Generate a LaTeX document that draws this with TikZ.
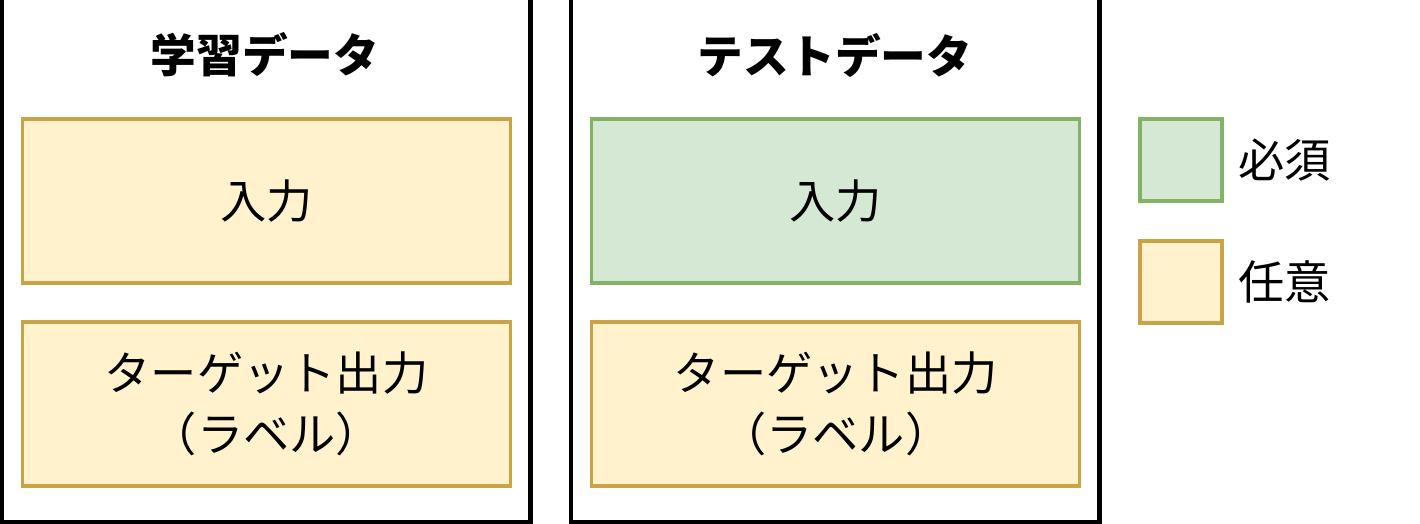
\documentclass[tikz,border=0pt]{standalone}
\usepackage{fontspec}
\setmainfont{Noto Sans CJK JP}
\definecolor{optfill}{HTML}{FFF2CC}
\definecolor{optline}{HTML}{C9A446}
\definecolor{reqfill}{HTML}{D5E8D4}
\definecolor{reqline}{HTML}{82B366}
\tikzset{
	panel/.style={draw=black, line width=2.3pt, minimum width=10.57cm, minimum height=11cm, inner sep=0pt},
	paneltitle/.style={font=\fontsize{26}{30}\selectfont\bfseries},
	databox/.style={line width=1.8pt, minimum width=9.76cm, minimum height=3.28cm, align=center, inner sep=0pt, font=\fontsize{26.3}{35}\selectfont},
	optbox/.style={databox, draw=optline, fill=optfill},
	reqbox/.style={databox, draw=reqline, fill=reqfill},
	keybox/.style={line width=1.8pt, minimum size=1.64cm, inner sep=0pt},
	keytext/.style={anchor=west, inner sep=0pt, font=\fontsize{26.3}{30}\selectfont}
}

\begin{document}
\begin{tikzpicture}
			%%%%% START %%%%%
			\useasboundingbox (0, 0) rectangle (28.4, 10.48);
			\clip (0, 0) rectangle (28.4, 10.48);
			
			% panels
			\node[panel] (train) at (5.325, 5.54) {};
			\node[panel] (test) at (16.705, 5.54) {};
			
			\node[paneltitle] (traintitle) at (5.3, 9.38) {学習データ};
			\node[paneltitle] (testtitle) at (16.7, 9.38) {テストデータ};
			
			% training data
			\node[optbox] (trainin) at (5.33, 6.46) {入力};
			\node[optbox] (trainout) at (5.33, 2.4) {ターゲット出力\\（ラベル）};
			
			% test data
			\node[reqbox] (testin) at (16.715, 6.46) {入力};
			\node[optbox] (testout) at (16.715, 2.4) {ターゲット出力\\（ラベル）};
			
			% legend
			\node[keybox, draw=reqline, fill=reqfill] (keyreq) at (23.62, 7.28) {};
			\node[keybox, draw=optline, fill=optfill] (keyopt) at (23.62, 4.84) {};
			\node[keytext] (keyreqtext) at (24.76, 7.28) {必須};
			\node[keytext] (keyopttext) at (24.76, 4.84) {任意};
			
			%%%%% END %%%%%
\end{tikzpicture}
\end{document}
